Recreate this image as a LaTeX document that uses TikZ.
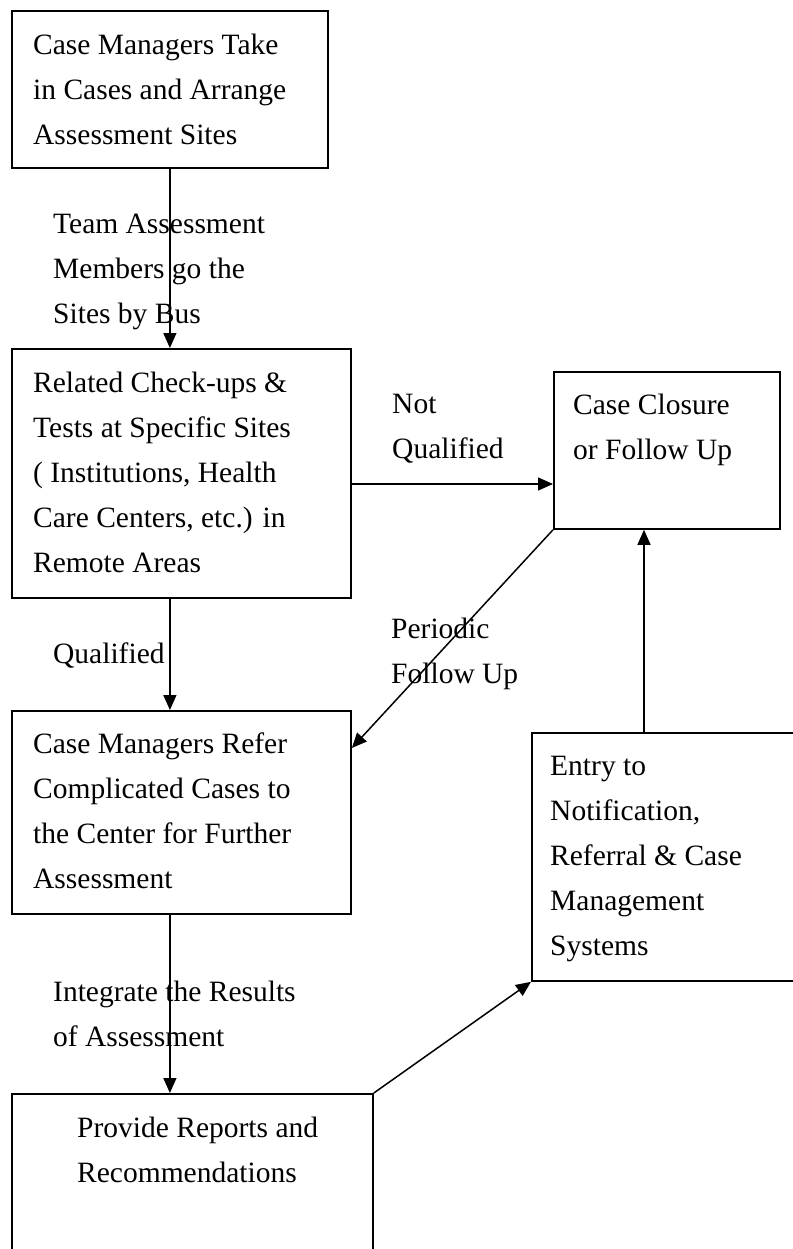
\documentclass[tikz,border=0pt]{standalone}
\usepackage{fontspec}
\setmainfont{Liberation Serif}
\usetikzlibrary{arrows.meta}
% left-aligned block of lines whose baseline is the first line's baseline
\newcommand\stack[1]{\begin{tabular}[t]{@{}l@{}}#1\end{tabular}}
\begin{document}
\begin{tikzpicture}[x=1bp,y=-1bp,
  box/.style={draw, line width=1.8bp, rectangle, anchor=north west, inner sep=0pt},
  txt/.style={anchor=base west, inner sep=0pt, font=\fontsize{29.5bp}{45bp}\selectfont},
  arr/.style={line width=1.5bp, -{Triangle[length=15bp,width=13bp]}}]
\useasboundingbox (0,0) rectangle (793,1249);

% boxes
\node[box, minimum width=316bp, minimum height=157bp] (b1) at (11,10) {};
\node[box, minimum width=339bp, minimum height=249bp] (b2) at (11,348) {};
\node[box, minimum width=339bp, minimum height=203bp] (b3) at (11,710) {};
\node[box, minimum width=361bp, minimum height=220bp] (b4) at (11,1093) {};
\node[box, minimum width=226bp, minimum height=157bp] (cl) at (553,371) {};
\node[box, minimum width=300bp, minimum height=248bp] (en) at (531,732) {};

% box texts
\node[txt] (t1) at (33,54) {\stack{Case Managers Take\\in Cases and Arrange\\Assessment Sites}};
\node[txt] (t2) at (33,392) {\stack{Related Check-ups \&\\Tests at Specific Sites\\( Institutions, Health\\Care Centers, etc.) in\\Remote Areas}};
\node[txt] (t3) at (33,753) {\stack{Case Managers Refer\\Complicated Cases to\\the Center for Further\\Assessment}};
\node[txt] (t4) at (77,1137) {\stack{Provide Reports and\\Recommendations}};
\node[txt] (tc) at (573,414) {\stack{Case Closure\\or Follow Up}};
\node[txt] (te) at (550,775) {\stack{Entry to\\Notification,\\Referral \& Case\\Management\\Systems}};

% connector labels
\node[txt] (l1) at (53,233) {\stack{Team Assessment\\Members go the\\Sites by Bus}};
\node[txt] (l2) at (392,413) {\stack{Not\\Qualified}};
\node[txt] (l3) at (391,638) {\stack{Periodic\\Follow Up}};
\node[txt] (l4) at (53,663) {Qualified};
\node[txt] (l5) at (53,1001) {\stack{Integrate the Results\\of Assessment}};

% connectors
\coordinate (nq) at (350,484);
\coordinate (pf) at (350,748);
\coordinate (up) at (644,0);
\draw[arr] (b1.south) -- (b1.south |- b2.north);
\draw[arr] (b1.south |- b2.south) -- (b1.south |- b3.north);
\draw[arr] (b1.south |- b3.south) -- (b1.south |- b4.north);
\draw[arr] (b2.east |- nq) -- (cl.west |- nq);
\draw[arr] (cl.south west) -- (b3.east |- pf);
\draw[arr] (en.north -| up) -- (cl.south -| up);
\draw[arr] (b4.north east) -- (en.south west);
\end{tikzpicture}
\end{document}
